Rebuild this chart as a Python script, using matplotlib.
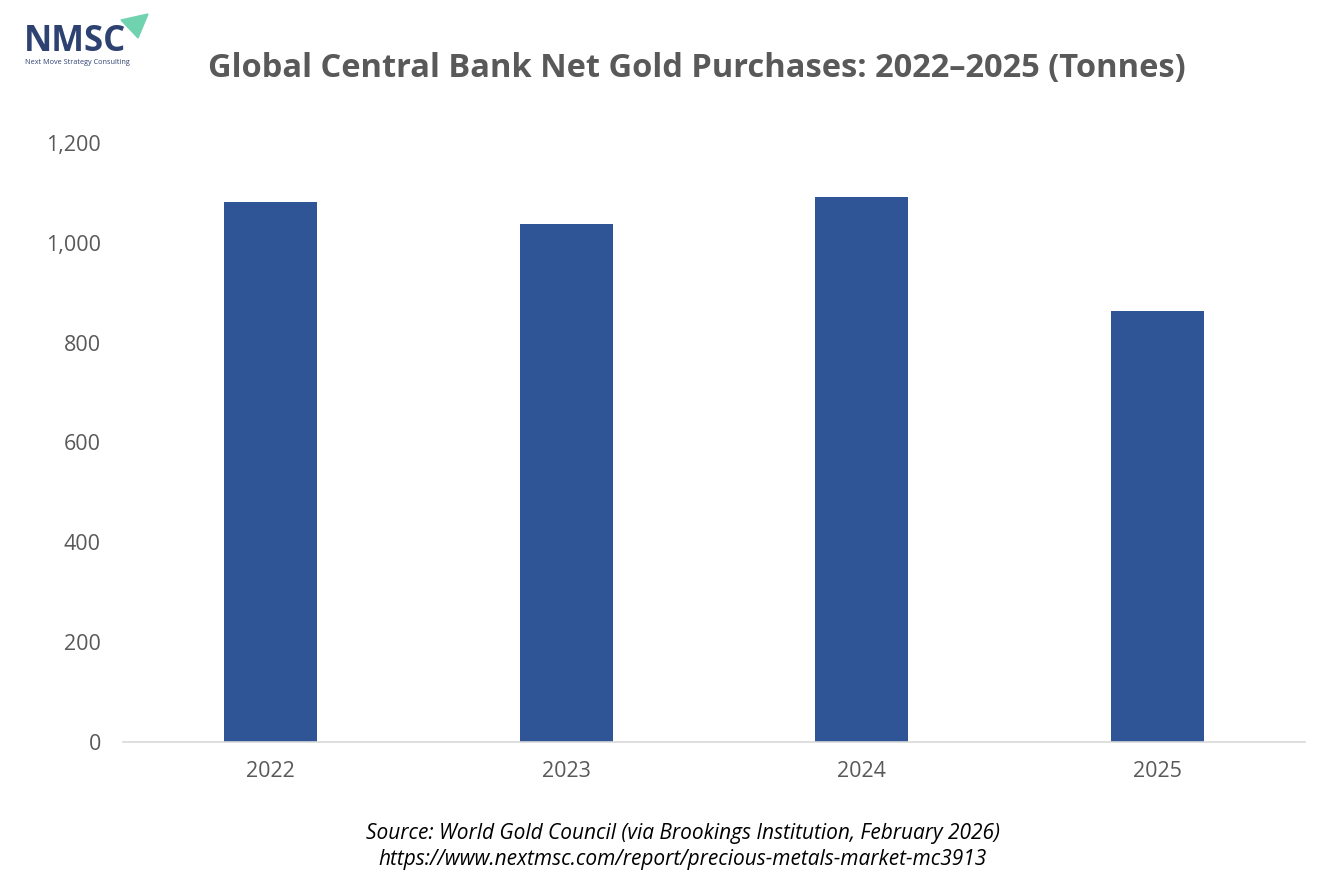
import matplotlib.pyplot as plt
from matplotlib.patches import Polygon

years = ['2022', '2023', '2024', '2025']
tonnes = [1082, 1037, 1092, 863]
yticks = [0, 200, 400, 600, 800, 1000, 1200]

gray = '#595959'
bar_color = '#2f5597'

plt.rcParams['font.family'] = ['Open Sans', 'DejaVu Sans']

fig = plt.figure(figsize=(13.34, 8.89), dpi=100)
ax = fig.add_axes([123 / 1334, 1 - 742 / 889, (1305 - 123) / 1334, (742 - 143) / 889])

x = range(len(years))
ax.bar(x, tonnes, width=0.315, color=bar_color)
ax.set_xlim(-0.5, len(years) - 0.5)
ax.set_ylim(0, 1200)
ax.set_yticks(yticks)
ax.set_yticklabels([f'{v:,}' for v in yticks])
ax.set_xticks(list(x))
ax.set_xticklabels(years)
ax.tick_params(axis='both', length=0, labelsize=15.5, colors=gray)
ax.tick_params(axis='x', pad=14)
ax.tick_params(axis='y', pad=16)
for side in ['top', 'right', 'left']:
    ax.spines[side].set_visible(False)
ax.spines['bottom'].set_color('#d9d9d9')
ax.spines['bottom'].set_linewidth(1.2)

fig.text(697 / 1334, 1 - 68 / 889, 'Global Central Bank Net Gold Purchases: 2022\u20132025 (Tonnes)',
         ha='center', va='center', fontsize=23.5, fontweight='bold', color=gray)

fig.text(683 / 1334, 1 - 833 / 889, 'Source: World Gold Council (via Brookings Institution, February 2026)',
         ha='center', va='center', fontsize=15, style='italic', color='black')
fig.text(683 / 1334, 1 - 860 / 889, 'https://www.nextmsc.com/report/precious-metals-market-mc3913',
         ha='center', va='center', fontsize=15, style='italic', color='black')

# logo
fig.text(24 / 1334, 1 - 42 / 889, 'NMSC', ha='left', va='center', fontsize=25,
         fontweight='bold', color='#2e4272')
fig.text(25 / 1334, 1 - 62 / 889, 'Next Move Strategy Consulting', ha='left', va='center',
         fontsize=5.2, color='#2e4272')
tri = Polygon([[121 / 1334, 1 - 20 / 889], [148 / 1334, 1 - 14 / 889], [138 / 1334, 1 - 38 / 889]],
              closed=True, transform=fig.transFigure, color='#6fd3b0')
fig.patches.append(tri)

fig.savefig('out.png', dpi=100)
